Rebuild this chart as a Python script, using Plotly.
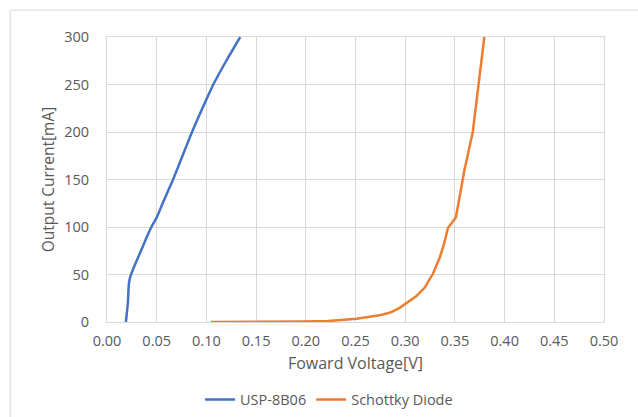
import plotly.graph_objects as go

# Forward characteristics
usp_voltage = [0.019, 0.0195, 0.021, 0.022, 0.0235, 0.028, 0.033, 0.0386, 0.0446,
               0.050, 0.056, 0.0665, 0.076, 0.0855, 0.096, 0.107, 0.120, 0.134]
usp_current = [0, 5, 20, 40, 48, 60, 72, 86, 100,
               110, 125, 150, 175, 200, 225, 250, 275, 300]

schottky_voltage = [0.1045, 0.145, 0.146, 0.194, 0.2225, 0.251, 0.274, 0.285, 0.294, 0.301,
                    0.311, 0.3195, 0.328, 0.3345, 0.339, 0.343, 0.3445, 0.351, 0.356, 0.3596,
                    0.368, 0.3736, 0.3796]
schottky_current = [0, 0, 0.5, 0.5, 1, 3.5, 7, 10, 14.6, 20,
                    27, 36, 51, 67, 82, 99, 101, 110, 139, 160,
                    200, 250, 300]

x_ticks = [0.00, 0.05, 0.10, 0.15, 0.20, 0.25, 0.30, 0.35, 0.40, 0.45, 0.50]
y_ticks = [0, 50, 100, 150, 200, 250, 300]

W, H = 638, 417
L, R, T, B = 106.5, 604.5, 36.5, 322.3

font = "Open Sans, Liberation Sans, Arial, sans-serif"
text_grey = "#595959"

fig = go.Figure()
fig.add_trace(go.Scatter(x=usp_voltage, y=usp_current, mode="lines", name="USP-8B06",
                         line=dict(color="#4472C4", width=2.5, shape="spline", smoothing=0.4)))
fig.add_trace(go.Scatter(x=schottky_voltage, y=schottky_current, mode="lines",
                         name="Schottky Diode",
                         line=dict(color="#ED7D31", width=2.5)))

def px_x(p):
    return (p - L) / (R - L)

def px_y(p):
    return (B - p) / (B - T)

# outer chart frame
fig.add_shape(type="rect", xref="paper", yref="paper",
              x0=px_x(9.5), x1=px_x(660), y0=px_y(440), y1=px_y(9.5),
              line=dict(color="#d9d9d9", width=1), fillcolor="rgba(0,0,0,0)",
              layer="below")

fig.update_layout(
    width=W, height=H,
    margin=dict(l=L, r=W - R, t=T, b=H - B, autoexpand=False),
    paper_bgcolor="white", plot_bgcolor="white",
    font=dict(family=font, size=14.5, color=text_grey),
    showlegend=True,
    legend=dict(orientation="h", xref="paper", yref="paper",
                x=px_x(329), xanchor="center", y=px_y(400), yanchor="middle",
                font=dict(size=14.5, color=text_grey), bgcolor="rgba(0,0,0,0)",
                itemwidth=30),
    xaxis=dict(range=[0, 0.5], tickvals=x_ticks, tickformat=".2f",
               showgrid=True, gridcolor="#d9d9d9", gridwidth=1,
               showline=True, linecolor="#d9d9d9", linewidth=1, mirror=True,
               zeroline=False, ticks="", ticklabelstandoff=6,
               title=dict(text="Foward Voltage[V]", standoff=8,
                          font=dict(size=16, color=text_grey))),
    yaxis=dict(range=[0, 300], tickvals=y_ticks,
               showgrid=True, gridcolor="#d9d9d9", gridwidth=1,
               showline=True, linecolor="#d9d9d9", linewidth=1, mirror=True,
               zeroline=False, ticks="", ticklabelstandoff=14,
               title=dict(text="Output Current[mA]", standoff=5,
                          font=dict(size=15.5, color=text_grey))),
)

fig.write_html("out.html")
